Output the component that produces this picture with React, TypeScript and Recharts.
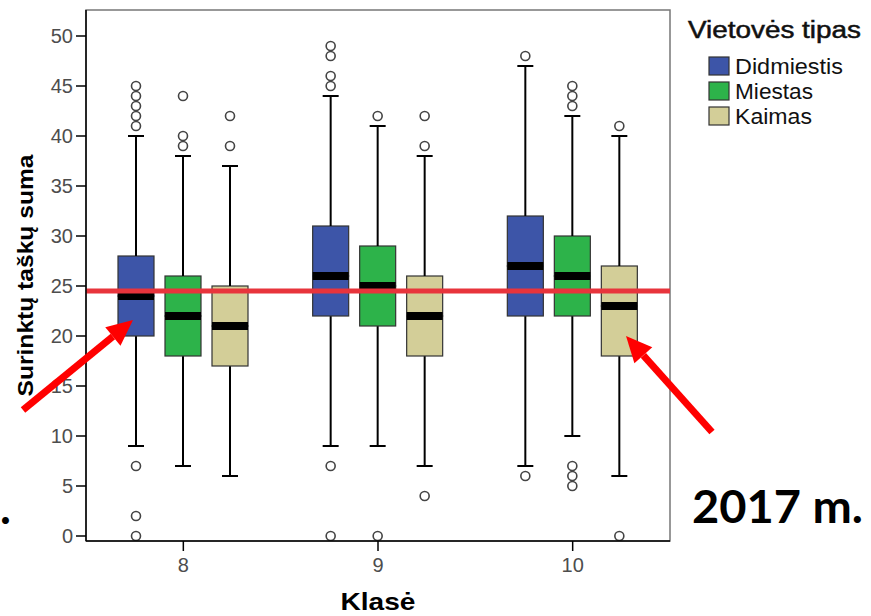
import {
  ComposedChart,
  Bar,
  XAxis,
  YAxis,
  Legend,
  ReferenceLine,
  ReferenceArea,
  Label,
} from 'recharts'

const FONT = '"Liberation Sans", Arial, sans-serif'

const klases = ['8', '9', '10']
const yTicks = [0, 5, 10, 15, 20, 25, 30, 35, 40, 45, 50]

// [whisker low, Q1, median, Q3, whisker high] per klase
const didmiestis = [
  [9, 20, 24, 28, 40],
  [9, 22, 26, 31, 44],
  [7, 22, 27, 32, 47],
]
const miestas = [
  [7, 18, 22, 26, 38],
  [9, 21, 25, 29, 41],
  [10, 22, 26, 30, 42],
]
const kaimas = [
  [6, 17, 21, 25, 37],
  [7, 18, 22, 26, 38],
  [6, 18, 23, 27, 40],
]

const didmiestisOut = [[0, 2, 7, 41, 42, 43, 44, 45], [0, 7, 45, 46, 48, 49], [6, 48]]
const miestasOut = [[39, 40, 44], [0, 42], [5, 6, 7, 43, 44, 45]]
const kaimasOut = [[39, 42], [4, 39, 42], [0, 41]]

const average = 24.5

const series = [
  { key: 'did', name: 'Didmiestis', color: '#3d55a8', stats: didmiestis, out: didmiestisOut },
  { key: 'mie', name: 'Miestas', color: '#2db34a', stats: miestas, out: miestasOut },
  { key: 'kai', name: 'Kaimas', color: '#d3ce98', stats: kaimas, out: kaimasOut },
]

const data = klases.map((klase, i) => {
  const row: { [k: string]: any } = { klase }
  series.forEach((s) => {
    const [lo, q1, md, q3, hi] = s.stats[i]
    row[`${s.key}_base`] = lo
    row[`${s.key}_lw`] = q1 - lo
    row[`${s.key}_bl`] = md - q1
    row[`${s.key}_bh`] = q3 - md
    row[`${s.key}_hw`] = hi - q3
  })
  return row
})

// base bar spans 0..low; use it to place outliers
const baseShape = (sIdx: number) => (props: any) => {
  const { x, y, width, height, index } = props
  const lo = series[sIdx].stats[index][0]
  const zeroY = y + height
  const unit = height / lo
  const cx = x + width / 2
  return (
    <g>
      {series[sIdx].out[index].map((v, j) => (
        <circle key={j} cx={cx} cy={zeroY - v * unit} r={4.5} fill="#fff" stroke="#444" strokeWidth={1.6} />
      ))}
    </g>
  )
}

const lowWhisker = (props: any) => {
  const { x, y, width, height } = props
  const cx = x + width / 2
  return (
    <g stroke="#000" strokeWidth={2}>
      <line x1={cx} x2={cx} y1={y} y2={y + height} />
      <line x1={cx - 8} x2={cx + 8} y1={y + height} y2={y + height} />
    </g>
  )
}

const highWhisker = (props: any) => {
  const { x, y, width, height } = props
  const cx = x + width / 2
  return (
    <g stroke="#000" strokeWidth={2}>
      <line x1={cx} x2={cx} y1={y} y2={y + height} />
      <line x1={cx - 8} x2={cx + 8} y1={y} y2={y} />
    </g>
  )
}

const boxLow = (color: string) => (props: any) => {
  const { x, y, width, height } = props
  return <rect x={x} y={y} width={width} height={height} fill={color} stroke="#333" strokeWidth={1.2} />
}

const boxHigh = (color: string) => (props: any) => {
  const { x, y, width, height } = props
  return (
    <g>
      <rect x={x} y={y} width={width} height={height} fill={color} stroke="#333" strokeWidth={1.2} />
      <rect x={x} y={y + height - 4} width={width} height={8} fill="#000" />
    </g>
  )
}

const LegendBox = () => (
  <svg width={185} height={120} style={{ display: 'block' }}>
    <text
      x={2}
      y={24}
      fontFamily={FONT}
      fontSize={23}
      fill="#111"
      stroke="#111"
      strokeWidth={0.5}
      textLength={173}
      lengthAdjust="spacingAndGlyphs"
    >
      Vietovės tipas
    </text>
    {series.map((s, i) => (
      <g key={s.key}>
        <rect x={23} y={43 + i * 25} width={20} height={18} fill={s.color} stroke="#333" strokeWidth={1.2} />
        <text
          x={49}
          y={60 + i * 25}
          fontFamily={FONT}
          fontSize={22}
          fill="#111"
          textLength={[108, 78, 77][i]}
          lengthAdjust="spacingAndGlyphs"
        >
          {s.name}
        </text>
      </g>
    ))}
  </svg>
)

const YTitle = (props: any) => {
  const { viewBox } = props
  const cy = viewBox.y + viewBox.height / 2
  return (
    <text
      x={33}
      y={cy}
      transform={`rotate(-90, 33, ${cy})`}
      textAnchor="middle"
      fontFamily={FONT}
      fontWeight="bold"
      fontSize={22}
      fill="#000"
      textLength={242}
      lengthAdjust="spacingAndGlyphs"
    >
      Surinktų taškų suma
    </text>
  )
}

const XTitle = (props: any) => {
  const { viewBox } = props
  const cx = viewBox.x + viewBox.width / 2
  return (
    <text
      x={cx}
      y={610}
      textAnchor="middle"
      fontFamily={FONT}
      fontWeight="bold"
      fontSize={24}
      fill="#000"
      textLength={75}
      lengthAdjust="spacingAndGlyphs"
    >
      Klasė
    </text>
  )
}

const Arrow = ({ x1, y1, x2, y2 }: { x1: number; y1: number; x2: number; y2: number }) => {
  const len = Math.hypot(x2 - x1, y2 - y1)
  const ux = (x2 - x1) / len
  const uy = (y2 - y1) / len
  const bx = x2 - ux * 26
  const by = y2 - uy * 26
  const px = -uy * 12
  const py = ux * 12
  return (
    <g fill="#f00" stroke="#f00">
      <line x1={x1} y1={y1} x2={bx} y2={by} strokeWidth={7} />
      <polygon points={`${x2},${y2} ${bx + px},${by + py} ${bx - px},${by - py}`} stroke="none" />
    </g>
  )
}

export default function App() {
  return (
    <div style={{ position: 'absolute', left: 0, top: 0, width: 871, height: 616, background: '#fff' }}>
      <ComposedChart
        width={871}
        height={616}
        data={data}
        margin={{ top: 10, right: 201, bottom: 0, left: 0 }}
        barSize={36}
        barGap={11}
      >
        <ReferenceArea y1={-0.5} y2={52.6} fill="none" stroke="#777" strokeWidth={1.5} />
        <XAxis
          dataKey="klase"
          height={75}
          axisLine={{ stroke: '#000', strokeWidth: 1.5 }}
          tickLine={{ stroke: '#000', strokeWidth: 1.5 }}
          tickSize={10}
          tickMargin={7}
          tick={{ fontSize: 20, fontFamily: FONT, fill: '#4d4d4d' }}
        >
          <Label content={<XTitle />} />
        </XAxis>
        <YAxis
          width={86}
          domain={[-0.5, 52.6]}
          ticks={yTicks}
          allowDataOverflow
          axisLine={{ stroke: '#000', strokeWidth: 1.5 }}
          tickLine={{ stroke: '#000', strokeWidth: 1.5 }}
          tickSize={10}
          tickMargin={3}
          tick={{ fontSize: 20, fontFamily: FONT, fill: '#4d4d4d' }}
        >
          <Label content={<YTitle />} />
        </YAxis>
        <Legend
          layout="vertical"
          align="center"
          verticalAlign="middle"
          wrapperStyle={{ left: 686, top: 14, width: 185 }}
          content={<LegendBox />}
        />
        {series.map((s, i) => [
          <Bar key={`${s.key}_base`} dataKey={`${s.key}_base`} stackId={s.key} shape={baseShape(i)} isAnimationActive={false} legendType="none" />,
          <Bar key={`${s.key}_lw`} dataKey={`${s.key}_lw`} stackId={s.key} shape={lowWhisker} isAnimationActive={false} legendType="none" />,
          <Bar key={`${s.key}_bl`} dataKey={`${s.key}_bl`} stackId={s.key} shape={boxLow(s.color)} isAnimationActive={false} legendType="none" />,
          <Bar key={`${s.key}_bh`} dataKey={`${s.key}_bh`} stackId={s.key} shape={boxHigh(s.color)} isAnimationActive={false} legendType="none" />,
          <Bar key={`${s.key}_hw`} dataKey={`${s.key}_hw`} stackId={s.key} shape={highWhisker} isAnimationActive={false} legendType="none" />,
        ])}
        <ReferenceLine y={average} stroke="#e8343c" strokeWidth={5} />
      </ComposedChart>
      <svg width={871} height={616} style={{ position: 'absolute', left: 0, top: 0, pointerEvents: 'none' }}>
        <Arrow x1={23} y1={410} x2={133} y2={320} />
        <Arrow x1={712} y1={432} x2={626} y2={336} />
        <text x={692} y={523} fontFamily="Lato, 'Open Sans', sans-serif" fontWeight="bold" fontSize={46} fill="#000" textLength={171} lengthAdjust="spacingAndGlyphs">
          2017 m.
        </text>
        <text x={0} y={524} fontFamily="Lato, 'Open Sans', sans-serif" fontWeight="bold" fontSize={46} fill="#000">
          .
        </text>
      </svg>
    </div>
  )
}
